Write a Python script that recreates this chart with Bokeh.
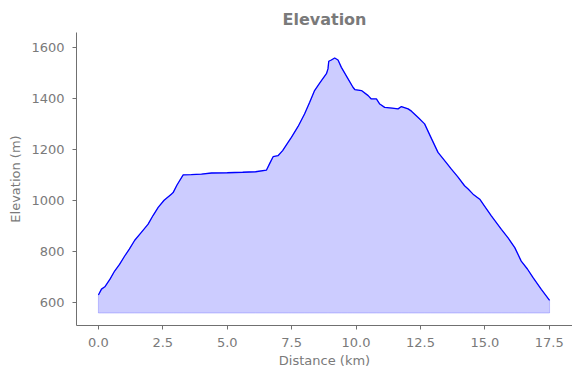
from bokeh.plotting import figure
from bokeh.models import Range1d, FixedTicker
from bokeh.embed import file_html
from bokeh.resources import INLINE

distance_km = [0.0, 0.12, 0.25, 0.45, 0.63, 0.82, 1.02, 1.2, 1.41, 1.65, 1.93, 2.12, 2.32, 2.55, 2.83, 2.9,
               3.05, 3.29, 3.6, 4.0, 4.39, 5.0, 5.6, 6.1, 6.52, 6.65, 6.78, 6.97, 7.15, 7.36, 7.49,
               7.75, 8.0, 8.2, 8.39, 8.6, 8.85, 8.91, 8.94, 9.04, 9.17, 9.3, 9.43, 9.65, 9.88, 9.95,
               10.21, 10.47, 10.59, 10.79, 10.92, 11.11, 11.4, 11.63, 11.76, 12.02, 12.15, 12.41,
               12.66, 12.9, 13.18, 13.5, 13.7, 13.95, 14.21, 14.35, 14.54, 14.8, 15.0, 15.25, 15.64,
               15.9, 16.16, 16.41, 16.65, 16.87, 17.19, 17.51]
elevation_m = [628, 651, 660, 690, 722, 748, 781, 808, 843, 872, 906, 940, 972, 1000, 1024, 1030,
               1060, 1100, 1101, 1103, 1107, 1108, 1110, 1112, 1118, 1145, 1171, 1175, 1195, 1227, 1247,
               1290, 1339, 1385, 1431, 1462, 1497, 1516, 1546, 1551, 1559, 1551, 1522, 1484, 1444, 1435,
               1431, 1411, 1398, 1398, 1378, 1365, 1362, 1359, 1368, 1359, 1350, 1325,
               1300, 1248, 1188, 1148, 1122, 1092, 1057, 1044, 1024, 1004, 975, 939, 886,
               852, 814, 761, 730, 696, 650, 607]

x_ticks = [0.0, 2.5, 5.0, 7.5, 10.0, 12.5, 15.0, 17.5]
y_ticks = [600, 800, 1000, 1200, 1400, 1600]

baseline = min(elevation_m) - 50
GRAY = "#7a7a7a"

p = figure(width=572, height=370, output_backend="svg", toolbar_location=None,
           x_range=Range1d(-0.85, 18.4), y_range=Range1d(508, 1659),
           min_border_left=76, min_border_right=0, min_border_top=32, min_border_bottom=45,
           title="Elevation")
p.frame_width = 496
p.frame_height = 293

patch_x = distance_km + distance_km[::-1]
patch_y = elevation_m + [baseline] * len(distance_km)
p.patch(patch_x, patch_y, fill_color="blue", fill_alpha=0.2, line_color="blue", line_alpha=0.2, line_width=1)
p.line(distance_km, elevation_m, line_color="blue", line_width=1.3)

p.title.align = "center"
p.title.text_font = "DejaVu Sans"
p.title.text_font_size = "16px"
p.title.text_font_style = "bold"
p.title.text_color = GRAY
p.title.offset = 0
p.title.standoff = 8

p.grid.visible = False
p.outline_line_color = None
p.background_fill_color = "white"
p.border_fill_color = "white"

for ax in (p.xaxis[0], p.yaxis[0]):
    ax.axis_line_color = "#707070"
    ax.major_tick_line_color = "#707070"
    ax.major_tick_out = 4
    ax.major_tick_in = 0
    ax.minor_tick_line_color = None
    ax.major_label_text_font = "DejaVu Sans"
    ax.major_label_text_font_size = "13px"
    ax.major_label_text_color = GRAY
    ax.axis_label_text_font = "DejaVu Sans"
    ax.axis_label_text_font_size = "13px"
    ax.axis_label_text_font_style = "normal"
    ax.axis_label_text_color = GRAY

p.xaxis[0].major_label_standoff = 8
p.yaxis[0].major_label_standoff = 8
p.xaxis[0].ticker = FixedTicker(ticks=x_ticks)
p.yaxis[0].ticker = FixedTicker(ticks=y_ticks)
p.xaxis[0].major_label_overrides = {t: f"{t:.1f}" for t in x_ticks}
p.xaxis[0].axis_label = "Distance (km)"
p.yaxis[0].axis_label = "Elevation (m)"
p.xaxis[0].axis_label_standoff = 3
p.yaxis[0].axis_label_standoff = 5

open("out.html", "w").write(file_html(p, INLINE))
